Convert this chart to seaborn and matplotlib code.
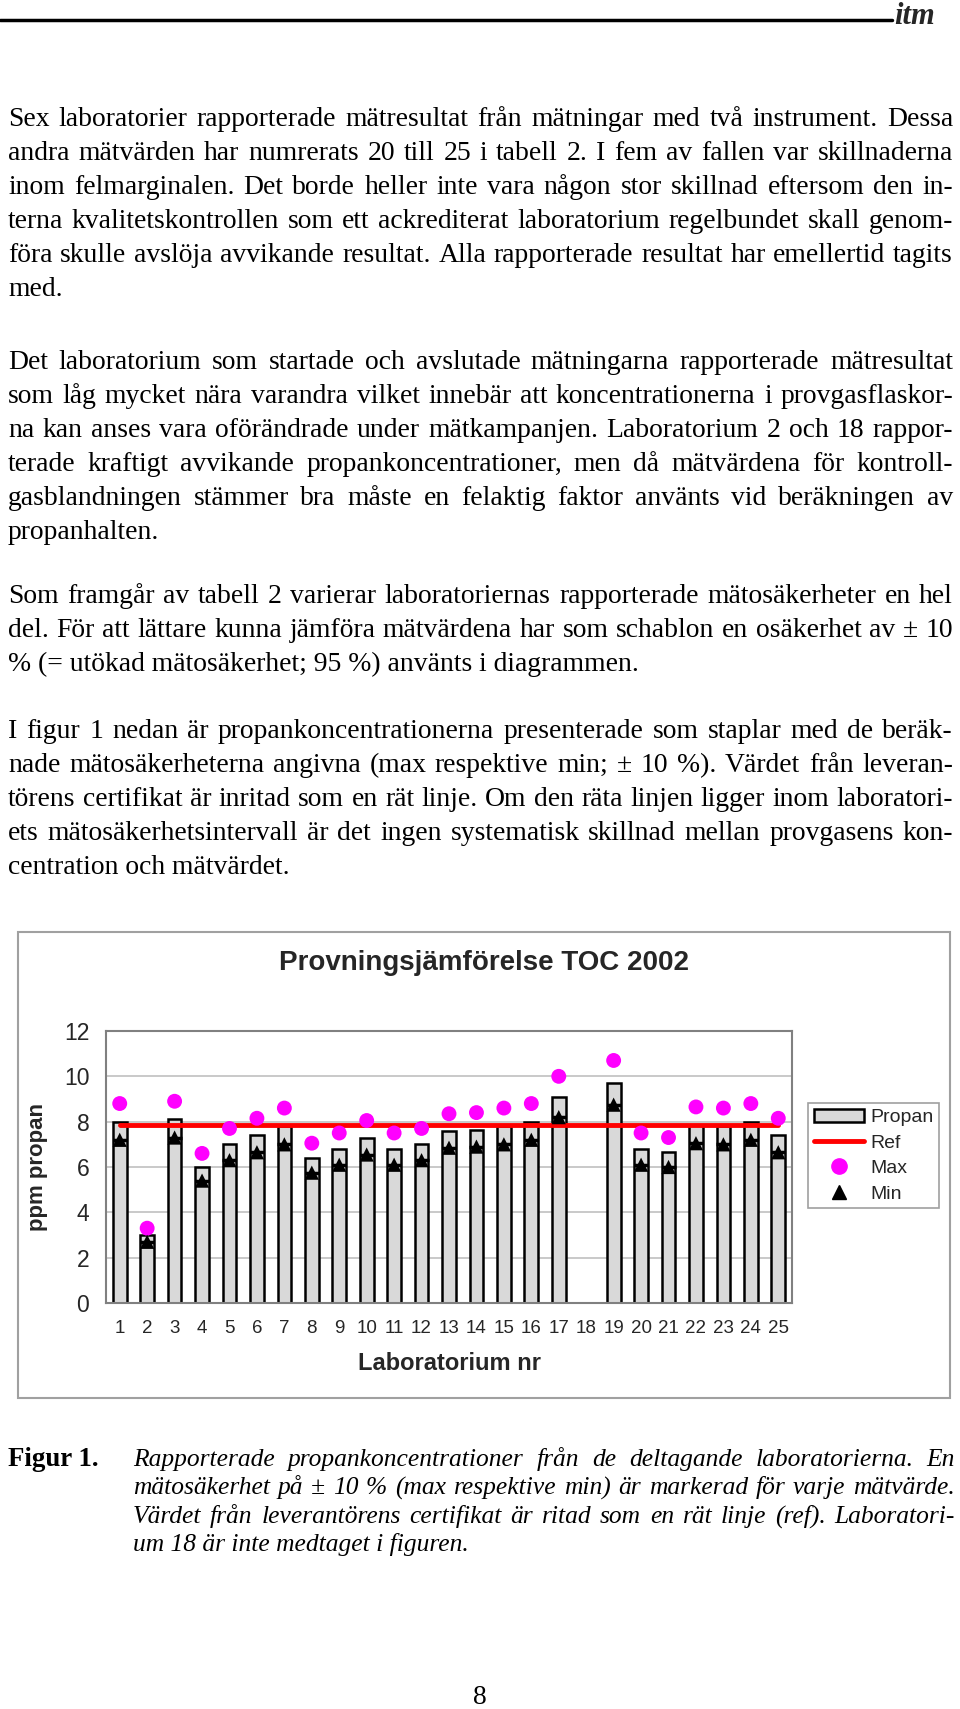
import numpy as np
import pandas as pd
import matplotlib
matplotlib.use("Agg")
import matplotlib.pyplot as plt
import seaborn as sns
from matplotlib.patches import Patch, Rectangle
from matplotlib.lines import Line2D

# --- data ---
labs = ['1', '2', '3', '4', '5', '6', '7', '8', '9', '10', '11', '12', '13',
        '14', '15', '16', '17', '18', '19', '20', '21', '22', '23', '24', '25']
propan = [8.0, 3.0, 8.1, 6.0, 7.0, 7.4, 7.8, 6.4, 6.8, 7.3, 6.8, 7.0, 7.6,
          7.65, 7.8, 8.0, 9.1, np.nan, 9.7, 6.8, 6.65, 7.85, 7.8, 8.0, 7.4]
max_val = [8.8, 3.3, 8.9, 6.6, 7.7, 8.15, 8.6, 7.05, 7.5, 8.05, 7.5, 7.7, 8.35,
           8.4, 8.6, 8.8, 10.0, np.nan, 10.7, 7.5, 7.3, 8.65, 8.6, 8.8, 8.15]
min_val = [7.2, 2.7, 7.3, 5.4, 6.3, 6.65, 7.0, 5.75, 6.1, 6.55, 6.1, 6.3, 6.85,
           6.9, 7.0, 7.2, 8.2, np.nan, 8.75, 6.1, 6.0, 7.05, 7.0, 7.2, 6.65]
ref = [7.85, 7.85, 7.85, 7.85, 7.85, 7.85, 7.85, 7.85, 7.85, 7.85, 7.85, 7.85, 7.85,
       7.85, 7.85, 7.85, 7.85, 7.85, 7.85, 7.85, 7.85, 7.85, 7.85, 7.85, 7.85]
yticks = [0, 2, 4, 6, 8, 10, 12]

df = pd.DataFrame({'lab': labs, 'propan': propan, 'max': max_val,
                   'min': min_val, 'ref': ref})
df['pos'] = np.arange(len(df))

# --- page text ---
par1 = ["Sex laboratorier rapporterade mätresultat från mätningar med två instrument. Dessa",
        "andra mätvärden har numrerats 20 till 25 i tabell 2. I fem av fallen var skillnaderna",
        "inom felmarginalen. Det borde heller inte vara någon stor skillnad eftersom den in-",
        "terna kvalitetskontrollen som ett ackrediterat laboratorium regelbundet skall genom-",
        "föra skulle avslöja avvikande resultat. Alla rapporterade resultat har emellertid tagits",
        "med."]
par2 = ["Det laboratorium som startade och avslutade mätningarna rapporterade mätresultat",
        "som låg mycket nära varandra vilket innebär att koncentrationerna i provgasflaskor-",
        "na kan anses vara oförändrade under mätkampanjen. Laboratorium 2 och 18 rappor-",
        "terade kraftigt avvikande propankoncentrationer, men då mätvärdena för kontroll-",
        "gasblandningen stämmer bra måste en felaktig faktor använts vid beräkningen av",
        "propanhalten."]
par3 = ["Som framgår av tabell 2 varierar laboratoriernas rapporterade mätosäkerheter en hel",
        "del. För att lättare kunna jämföra mätvärdena har som schablon en osäkerhet av ± 10",
        "% (= utökad mätosäkerhet; 95 %) använts i diagrammen."]
par4 = ["I figur 1 nedan är propankoncentrationerna presenterade som staplar med de beräk-",
        "nade mätosäkerheterna angivna (max respektive min; ± 10 %). Värdet från leveran-",
        "törens certifikat är inritad som en rät linje. Om den räta linjen ligger inom laboratori-",
        "ets mätosäkerhetsintervall är det ingen systematisk skillnad mellan provgasens kon-",
        "centration och mätvärdet."]
caption = ["Rapporterade propankoncentrationer från de deltagande laboratorierna. En",
           "mätosäkerhet på ± 10 % (max respektive min) är markerad för varje mätvärde.",
           "Värdet från leverantörens certifikat är ritad som en rät linje (ref). Laboratori-",
           "um 18 är inte medtaget i figuren."]

sns.set_style("white")
plt.rcParams['font.family'] = ['Liberation Sans', 'DejaVu Sans']

W, H = 960, 1709
fig = plt.figure(figsize=(W / 100, H / 100), dpi=100)
renderer = fig.canvas.get_renderer()


def fx(x):
    return x / W


def fy(y):
    return 1 - y / H


def text_width(s, **kw):
    t = fig.text(0, 0, s, **kw)
    w = t.get_window_extent(renderer).width
    t.remove()
    return w


def put_line(line, x0, x1, y, justify, **kw):
    if not justify:
        fig.text(fx(x0), fy(y), line, va='baseline', **kw)
        return
    words = line.split(' ')
    widths = [text_width(w, **kw) for w in words]
    gap = (x1 - x0 - sum(widths)) / (len(words) - 1)
    x = x0
    for w, wd in zip(words, widths):
        fig.text(fx(x), fy(y), w, va='baseline', **kw)
        x += wd + gap


def put_par(lines, x0, x1, y0, step, **kw):
    for i, line in enumerate(lines):
        put_line(line, x0, x1, y0 + i * step, i < len(lines) - 1, **kw)


serif = dict(family='Liberation Serif', color='black')
# one body size so that the longest full line fits the page width
full_lines = par1[:-1] + par2[:-1] + par3[:-1] + par4[:-1]
w20 = max(text_width(l, fontsize=20, **serif) for l in full_lines)
body_size = 20 * 940 / w20
cap_w20 = max(text_width(l, fontsize=20, fontstyle='italic', **serif)
              for l in caption[:-1])
cap_size = 20 * 805 / cap_w20

# header rule and logo
fig.add_artist(Line2D([0, fx(892)], [fy(20), fy(20)], transform=fig.transFigure,
                      color='black', lw=2.5))
fig.text(fx(894), fy(24), 'itm', fontsize=22, fontstyle='italic', fontweight='bold',
         family='Liberation Serif', va='baseline')

step = 34
put_par(par1, 8, 953, 126, step, fontsize=body_size, **serif)
put_par(par2, 8, 953, 369, step, fontsize=body_size, **serif)
put_par(par3, 8, 953, 603, step, fontsize=body_size, **serif)
put_par(par4, 8, 953, 738, step, fontsize=body_size, **serif)

# --- chart ---
fig.add_artist(Rectangle((fx(18), fy(1398)), (950 - 18) / W, (1398 - 932) / H,
                         transform=fig.transFigure, fill=False,
                         edgecolor='#a0a0a0', lw=1.5))

ax = fig.add_axes([fx(106), fy(1303), 686 / W, 272 / H])
sns.barplot(data=df, x='lab', y='propan', order=labs, color='#d9d9d9',
            saturation=1, edgecolor='black', linewidth=1.8, width=0.5,
            errorbar=None, ax=ax, zorder=2)
sns.lineplot(data=df, x='pos', y='ref', color='#ff0000', lw=3.5, sort=False,
             legend=False, ax=ax, zorder=3)
sns.scatterplot(data=df, x='pos', y='max', color='#ff00ff', marker='o', s=115,
                edgecolor='none', legend=False, ax=ax, zorder=4)
sns.scatterplot(data=df, x='pos', y='min', color='black', marker='_', s=110,
                linewidth=2.5, legend=False, ax=ax, zorder=4)
sns.scatterplot(data=df, x='pos', y='min', color='black', marker='^', s=105,
                edgecolor='none', legend=False, ax=ax, zorder=5)

ax.set_xlim(-0.5, len(labs) - 0.5)
ax.set_ylim(0, 12)
ax.set_yticks(yticks)
ax.set_xticks(range(len(labs)))
ax.set_xticklabels(labs)
ax.set_xticks(np.arange(len(labs) + 1) - 0.5, minor=True)
ax.set_xlabel('')
ax.set_ylabel('')
ax.yaxis.grid(True, color='#c0c0c0', lw=1.2)
ax.set_axisbelow(True)
for sp in ax.spines.values():
    sp.set_visible(True)
    sp.set_color('#808080')
    sp.set_linewidth(1.5)
ax.tick_params(axis='x', which='major', length=0, pad=12, labelsize=13.5)
ax.tick_params(axis='x', which='minor', length=6, width=1.2, color='#808080',
               direction='out')
ax.tick_params(axis='y', length=6, width=1.2, color='#808080', direction='out',
               pad=6, labelsize=16.5)

fig.text(fx(484), fy(963), 'Provningsjämförelse TOC 2002', fontsize=20,
         fontweight='bold', ha='center', va='center')
fig.text(fx(38), fy(1167), 'ppm propan', fontsize=16, fontweight='bold',
         rotation=90, ha='center', va='center')
fig.text(fx(449), fy(1363), 'Laboratorium nr', fontsize=17, fontweight='bold',
         ha='center', va='center')

handles = [Patch(facecolor='#d9d9d9', edgecolor='black', linewidth=1.8),
           Line2D([], [], color='#ff0000', lw=3.5),
           Line2D([], [], color='#ff00ff', marker='o', ms=11, ls='none'),
           Line2D([], [], color='black', marker='^', ms=10, ls='none')]
leg = ax.legend(handles, ['Propan', 'Ref', 'Max', 'Min'], loc='upper left',
                bbox_to_anchor=(fx(808), fy(1103)), bbox_transform=fig.transFigure,
                borderaxespad=0, frameon=True, fancybox=False, framealpha=1,
                edgecolor='#a0a0a0', fontsize=14, handlelength=2.6,
                handleheight=0.7, handletextpad=0.3, labelspacing=0.4,
                borderpad=0.3)
leg.get_frame().set_linewidth(1.2)

# --- caption and page number ---
fig.text(fx(8), fy(1466), 'Figur 1.', fontsize=cap_size + 1, fontweight='bold',
         va='baseline', **serif)
put_par(caption, 133, 955, 1466, 28.3, fontsize=cap_size, fontstyle='italic',
        **serif)
fig.text(fx(480), fy(1704), '8', fontsize=body_size, ha='center', va='baseline',
         **serif)

fig.savefig('out.png', dpi=100, facecolor='white')
